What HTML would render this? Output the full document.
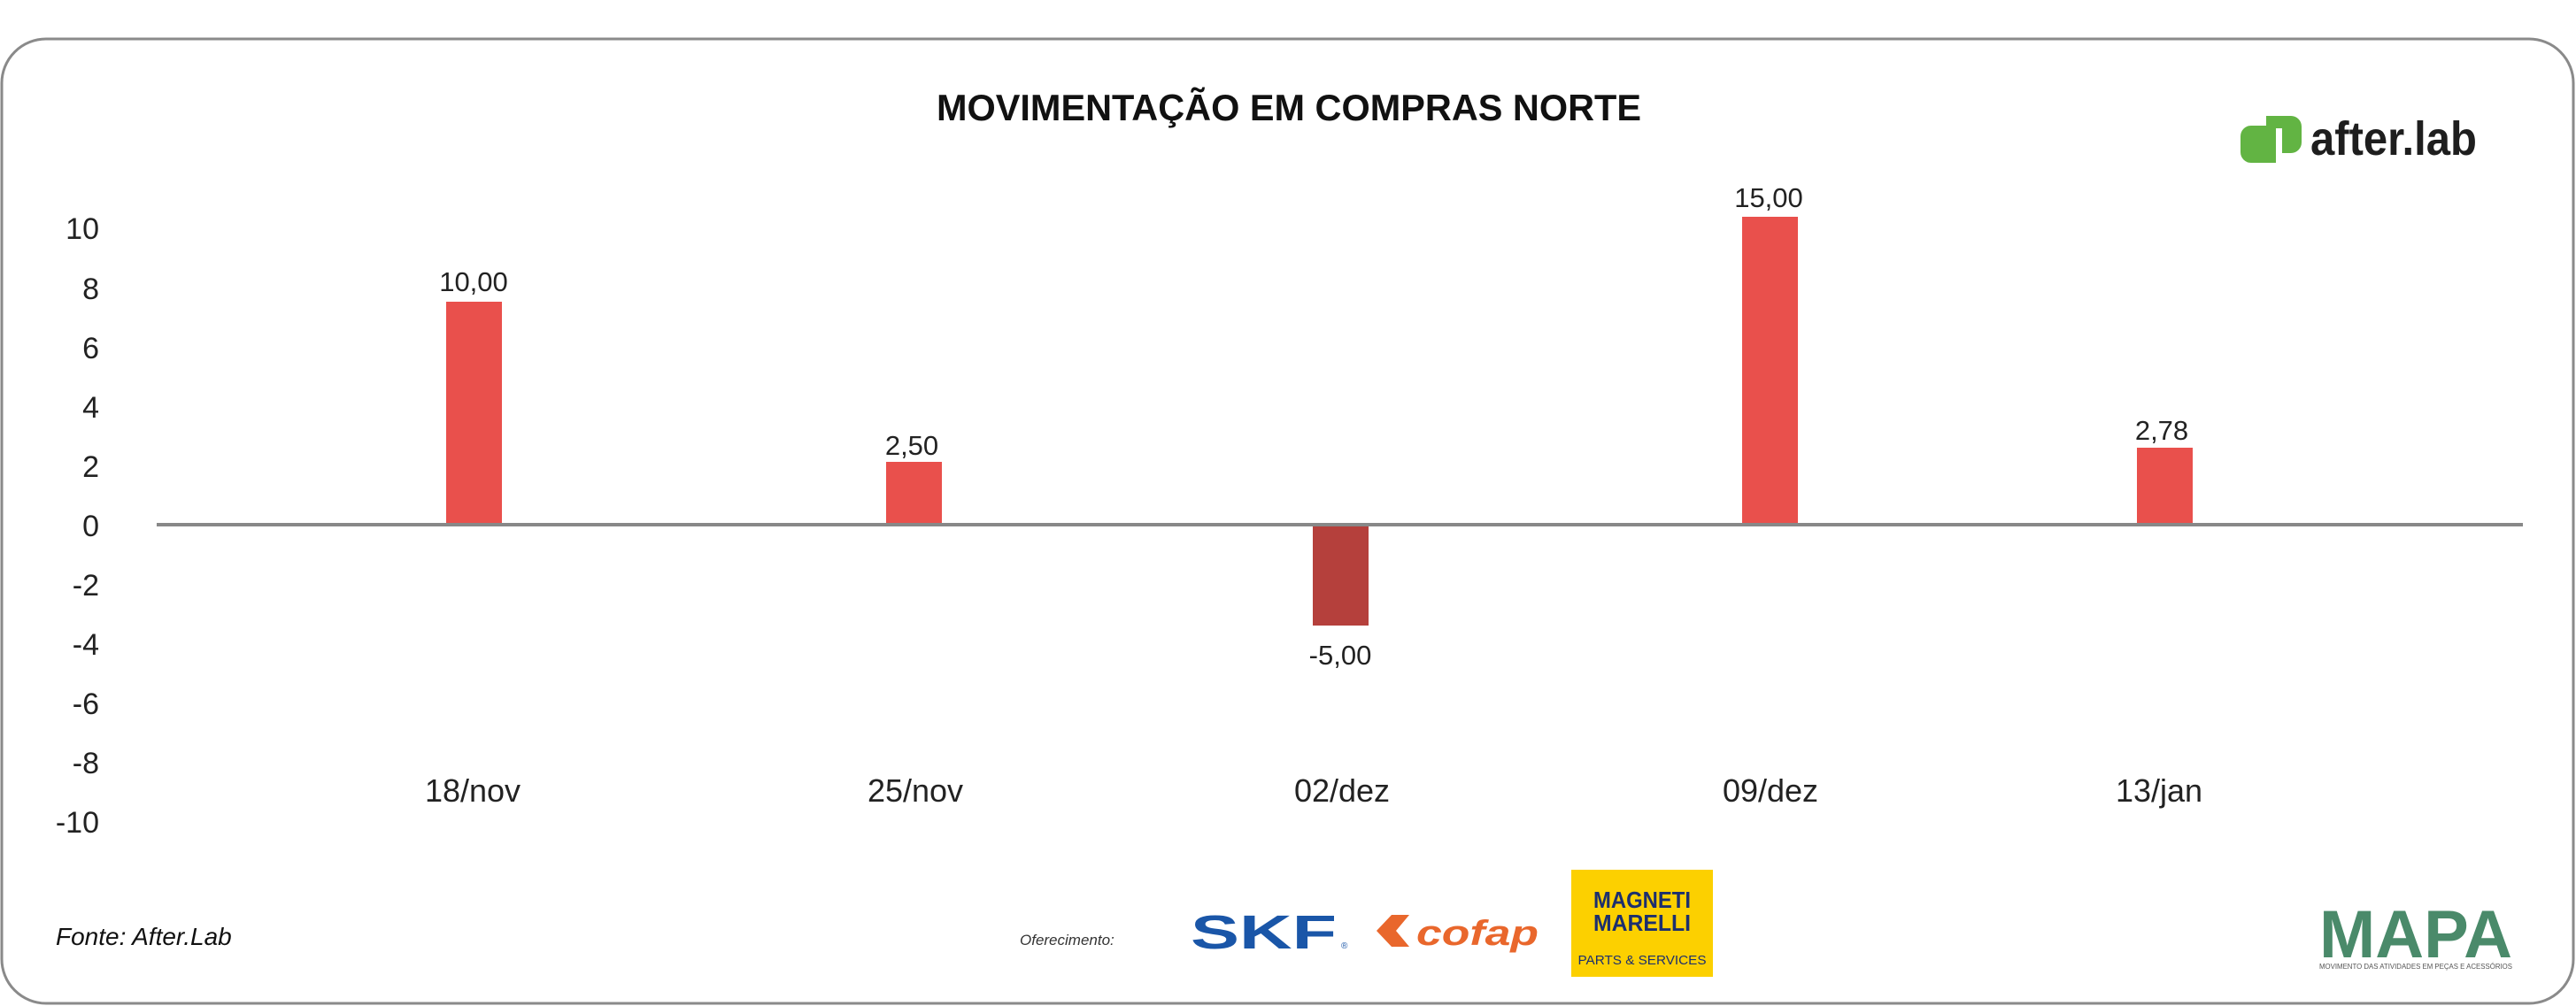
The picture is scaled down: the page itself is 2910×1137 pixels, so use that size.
<!DOCTYPE html>
<html><head><meta charset="utf-8"><style>html,body{margin:0;padding:0;background:#fff;}svg{display:block}</style></head>
<body>
<svg width="2910" height="1137" viewBox="0 0 2910 1137" xmlns="http://www.w3.org/2000/svg">
<rect x="2" y="44" width="2905" height="1090" rx="50" ry="50" fill="#fff" stroke="#8a8a8a" stroke-width="3"/>
<text x="1456" y="136" text-anchor="middle" font-family="Liberation Sans, sans-serif" font-weight="bold" font-size="42" textLength="796" lengthAdjust="spacingAndGlyphs" fill="#111">MOVIMENTAÇÃO EM COMPRAS NORTE</text>
<g font-family="Liberation Sans, sans-serif" font-size="34" fill="#222" text-anchor="end">
<text x="112" y="270">10</text><text x="112" y="338">8</text><text x="112" y="405">6</text><text x="112" y="472">4</text><text x="112" y="539">2</text><text x="112" y="606">0</text><text x="112" y="673">-2</text><text x="112" y="740">-4</text><text x="112" y="807">-6</text><text x="112" y="874">-8</text><text x="112" y="941">-10</text>
</g>
<g fill="#e9504c">
<rect x="504" y="341" width="63" height="252"/>
<rect x="1001" y="522" width="63" height="71"/>
<rect x="1968" y="245" width="63" height="348"/>
<rect x="2414" y="506" width="63" height="87"/>
</g>
<rect x="1483" y="593" width="63" height="114" fill="#b5403c"/>
<line x1="177" y1="593" x2="2850" y2="593" stroke="#888" stroke-width="4"/>
<g font-family="Liberation Sans, sans-serif" font-size="31" fill="#222" text-anchor="middle">
<text x="535" y="329">10,00</text><text x="1030" y="514">2,50</text><text x="1514" y="751">-5,00</text><text x="1998" y="234">15,00</text><text x="2442" y="497">2,78</text>
</g>
<g font-family="Liberation Sans, sans-serif" font-size="36" fill="#222" text-anchor="middle">
<text x="534" y="906">18/nov</text><text x="1034" y="906">25/nov</text><text x="1516" y="906">02/dez</text><text x="2000" y="906">09/dez</text><text x="2439" y="906">13/jan</text>
</g>
<text x="63" y="1068" font-family="Liberation Sans, sans-serif" font-style="italic" font-size="28" fill="#111">Fonte: After.Lab</text>
<text x="1152" y="1068" font-family="Liberation Sans, sans-serif" font-style="italic" font-size="17" fill="#333">Oferecimento:</text>
<text x="1345" y="1072" font-family="Liberation Sans, sans-serif" font-weight="bold" font-size="54" fill="#1a56a8" textLength="165" lengthAdjust="spacingAndGlyphs">SKF</text>
<text x="1515" y="1072" font-family="Liberation Sans, sans-serif" font-size="10" fill="#1a56a8">®</text>
<polygon points="1555,1052 1572,1034 1592,1034 1577,1052 1592,1070 1572,1070" fill="#e9672c"/>
<text x="1600" y="1068" font-family="Liberation Sans, sans-serif" font-weight="bold" font-style="italic" font-size="40" fill="#e9672c" textLength="138" lengthAdjust="spacingAndGlyphs">cofap</text>
<rect x="1775" y="983" width="160" height="121" fill="#fcd000"/>
<text x="1855" y="1026" text-anchor="middle" font-family="Liberation Sans, sans-serif" font-weight="bold" font-size="26" fill="#1c2f6e" textLength="110" lengthAdjust="spacingAndGlyphs">MAGNETI</text>
<text x="1855" y="1052" text-anchor="middle" font-family="Liberation Sans, sans-serif" font-weight="bold" font-size="26" fill="#1c2f6e" textLength="110" lengthAdjust="spacingAndGlyphs">MARELLI</text>
<text x="1855" y="1090" text-anchor="middle" font-family="Liberation Sans, sans-serif" font-size="15" fill="#1c2f6e" textLength="145" lengthAdjust="spacingAndGlyphs">PARTS &amp; SERVICES</text>
<path d="M2560,131 h28 a12,12 0 0 1 12,12 v18 a12,12 0 0 1 -12,12 h-10 v-28 h-18 z" fill="#62b443"/>
<path d="M2555,142 h16 v42 h-28 a12,12 0 0 1 -12,-12 v-18 a12,12 0 0 1 12,-12 z" fill="#62b443"/>
<text x="2610" y="175" font-family="Liberation Sans, sans-serif" font-weight="bold" font-size="54" fill="#1e1e1e" textLength="188" lengthAdjust="spacingAndGlyphs">after.lab</text>
<text x="2620" y="1082" font-family="Liberation Sans, sans-serif" font-weight="bold" font-size="76" fill="#4a8a6a" textLength="218" lengthAdjust="spacingAndGlyphs">MAPA</text>
<text x="2620" y="1095" font-family="Liberation Sans, sans-serif" font-size="8" fill="#555" textLength="218" lengthAdjust="spacingAndGlyphs">MOVIMENTO DAS ATIVIDADES EM PEÇAS E ACESSÓRIOS</text>
</svg>
</body></html>
